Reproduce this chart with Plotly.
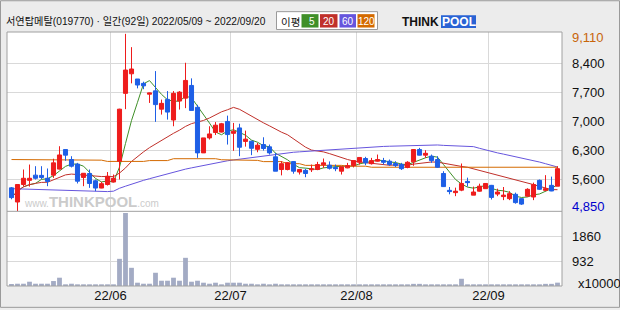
import pandas as pd
import plotly.graph_objects as go

# ---------------- data ----------------
holidays = ["2022-06-01", "2022-06-06", "2022-08-15", "2022-09-09", "2022-09-12"]
dates = [d for d in pd.bdate_range("2022-05-09", "2022-09-20")
         if d.strftime("%Y-%m-%d") not in holidays]

opens = [5410, 5070, 5490, 5590, 5715, 5710, 5640, 5715, 5860, 6330,
         6090, 5980, 5660, 5755, 5580, 5405, 5490, 5550, 6050, 7680,
         8150, 8025, 7920, 7660, 7740, 7300, 7535, 7040, 7495, 7565,
         7870, 7345, 6250, 6610, 6740, 6750, 7005, 6720, 6850, 6525,
         6530, 6335, 6450, 6395, 6155, 5850, 5850, 6040, 5790, 5830,
         5845, 5850, 5965, 5955, 5900, 5810, 5890, 5945, 6025, 6115,
         5990, 6050, 6065, 6050, 5995, 5970, 5900, 6035, 6330, 6195,
         6170, 6090, 5755, 5350, 5295, 5355, 5565, 5235, 5330, 5390,
         5470, 5260, 5200, 5150, 5255, 5150, 5210, 5190, 5590, 5350,
         5470, 5450]
highs = [5430, 5490, 5850, 5970, 5930, 5930, 5875, 6110, 6410, 6330,
         6170, 6010, 5765, 5850, 5610, 5555, 5790, 5730, 7310, 9110,
         8790, 8025, 7960, 7695, 8215, 7530, 7735, 7735, 7735, 8415,
         8040, 7405, 6610, 6890, 6990, 6970, 7145, 6970, 6950, 6785,
         6540, 6490, 6625, 6450, 6250, 6050, 6030, 6050, 5860, 5870,
         5970, 6035, 6115, 6045, 5970, 5920, 6010, 6070, 6140, 6155,
         6130, 6210, 6130, 6090, 6050, 6010, 6050, 6340, 6370, 6315,
         6210, 6170, 5810, 5430, 5415, 5995, 5655, 5440, 5510, 5520,
         5480, 5390, 5430, 5330, 5295, 5160, 5400, 5535, 5610, 5715,
         5680, 5930]
lows = [5135, 4850, 5450, 5440, 5610, 5620, 5450, 5650, 5850, 6060,
        5900, 5515, 5450, 5410, 5330, 5400, 5465, 5540, 5610, 7300,
        7920, 7800, 7780, 7450, 6995, 7170, 7050, 6890, 7290, 7325,
        7270, 6130, 6250, 6570, 6680, 6740, 6450, 6300, 6170, 6400,
        6195, 6265, 6305, 6210, 5810, 5710, 5830, 5750, 5730, 5665,
        5790, 5835, 5890, 5850, 5810, 5730, 5880, 5900, 5970, 5955,
        5970, 6040, 5970, 5940, 5910, 5840, 5880, 5940, 6190, 6130,
        6010, 5890, 5430, 5255, 5210, 5330, 5440, 5235, 5320, 5385,
        5130, 5210, 5115, 5115, 5030, 5000, 5200, 5115, 5360, 5330,
        5330, 5450]
closes = [5175, 5490, 5640, 5640, 5640, 5660, 5565, 6010, 6200, 6195,
          5930, 5570, 5760, 5515, 5405, 5510, 5690, 5640, 7300, 8240,
          8265, 7880, 7860, 7690, 7410, 7440, 7230, 7680, 7710, 7990,
          7270, 6250, 6610, 6705, 6915, 6950, 6690, 6770, 6385, 6580,
          6360, 6435, 6355, 6250, 5810, 5990, 6015, 5810, 5850, 5755,
          5865, 5970, 6010, 5880, 5870, 5915, 5945, 6065, 6140, 6010,
          6065, 6090, 6025, 5970, 5945, 5870, 6025, 6330, 6195, 6240,
          6065, 5905, 5440, 5320, 5330, 5515, 5535, 5310, 5450, 5515,
          5180, 5310, 5235, 5270, 5055, 5020, 5375, 5490, 5375, 5390,
          5335, 5870]
# volume, x10000 shares
volumes = [75, 85, 85, 160, 85, 85, 85, 185, 310, 50,
           85, 50, 45, 45, 45, 45, 45, 40, 1015, 2727,
           680, 123, 85, 85, 495, 197, 197, 310, 197, 1053,
           160, 197, 123, 85, 123, 50, 123, 123, 123, 85,
           85, 50, 85, 50, 85, 40, 40, 40, 40, 40,
           40, 40, 40, 40, 40, 40, 40, 40, 40, 40,
           40, 40, 40, 40, 40, 40, 40, 80, 80, 40,
           40, 40, 40, 40, 40, 270, 40, 40, 40, 40,
           40, 40, 40, 40, 40, 40, 40, 40, 40, 80,
           80, 125]
# 60- and 120-day averages (need data before the window)
ma60 = [5390, 5385, 5380, 5375, 5370, 5365, 5360, 5355, 5350, 5345,
        5340, 5335, 5330, 5325, 5320, 5320, 5320, 5330, 5400, 5450,
        5500, 5550, 5590, 5630, 5670, 5710, 5750, 5790, 5830, 5860,
        5890, 5920, 5950, 5980, 6010, 6040, 6060, 6080, 6100, 6120,
        6140, 6160, 6180, 6200, 6220, 6235, 6250, 6265, 6275, 6285,
        6295, 6305, 6315, 6325, 6330, 6345, 6360, 6370, 6380, 6390,
        6395, 6400, 6405, 6410, 6415, 6420, 6425, 6425, 6430, 6435,
        6445, 6440, 6430, 6425, 6420, 6420, 6415, 6400, 6360, 6320,
        6280, 6250, 6220, 6190, 6160, 6130, 6100, 6070, 6030, 5990,
        5950, 5910]
ma120 = [6090, 6090, 6090, 6090, 6090, 6090, 6090, 6090, 6085, 6085,
         6085, 6085, 6085, 6075, 6075, 6075, 6045, 6045, 6045, 6045,
         6045, 6045, 6045, 6065, 6065, 6065, 6065, 6110, 6110, 6110,
         6110, 6110, 6110, 6110, 6110, 6085, 6085, 6085, 6085, 6070,
         6070, 6070, 6040, 6040, 6040, 6040, 5990, 5990, 5990, 5950,
         5950, 5950, 5950, 5950, 5950, 5950, 5930, 5930, 5930, 5930,
         5905, 5905, 5905, 5905, 5905, 5905, 5905, 5905, 5905, 5905,
         5905, 5905, 5895, 5895, 5895, 5895, 5895, 5895, 5895, 5905,
         5905, 5905, 5905, 5905, 5905, 5905, 5905, 5905, 5905, 5905,
         5905, 5905]

price_ticks = [5600, 6300, 7000, 7700, 8400]
vol_ticks = [932, 1860]
title_text = "서연탑메탈(019770) · 일간(92일) 2022/05/09 ~ 2022/09/20"
ma_labels = ["5", "20", "60", "120"]

# ---------------- derived ----------------
n = len(dates)
idx = list(range(n))
cl = pd.Series(closes)
ma5 = cl.rolling(5, min_periods=1).mean().tolist()
ma20 = cl.rolling(20, min_periods=1).mean().tolist()
month_starts = [i for i in range(1, n) if dates[i].month != dates[i - 1].month]
x_tickvals = [i - 0.5 for i in month_starts]
x_ticktext = [dates[i].strftime("%y/%m") for i in month_starts]

# ---------------- style ----------------
RED = "#ee1c1c"
BLUE = "#1e5fe6"
C_MA = ["#3f8f28", "#c0302a", "#6655dd", "#d46a00"]
VOLC = "#a3abc4"
GRID = "#d9d9d9"
FRAME = "#a0a0a0"
BG = "#ececec"
W, H = 620, 310
ML, MR, MT, MB = 7, 58, 32, 22
PW, PH = W - ML - MR, H - MT - MB
VOL_DOM = 0.294


def px(x):
    return (x - ML) / PW


def py(y):
    return (H - MB - y) / PH


fig = go.Figure()
for ma, c in zip([ma5, ma20, ma60, ma120], C_MA):
    fig.add_trace(go.Scatter(x=idx, y=ma, mode="lines", line=dict(color=c, width=1),
                             xaxis="x", yaxis="y", hoverinfo="skip"))
fig.add_trace(go.Candlestick(
    x=idx, open=opens, high=highs, low=lows, close=closes,
    increasing=dict(line=dict(color=RED, width=1), fillcolor=RED),
    decreasing=dict(line=dict(color=BLUE, width=1), fillcolor=BLUE),
    whiskerwidth=0, xaxis="x", yaxis="y3"))
fig.add_trace(go.Bar(x=idx, y=volumes, marker=dict(color=VOLC, line=dict(width=0)),
                     width=0.8, xaxis="x", yaxis="y2"))

prange = [4846, 9154]
fig.update_layout(
    width=W, height=H, margin=dict(l=ML, r=MR, t=MT, b=MB),
    paper_bgcolor=BG, plot_bgcolor="white", showlegend=False,
    boxgap=0.32, boxgroupgap=0,
    xaxis=dict(range=[-0.75, n - 0.25], tickvals=x_tickvals, ticktext=x_ticktext,
               showgrid=True, gridcolor=GRID, gridwidth=1, zeroline=False,
               ticks="", anchor="y2", rangeslider=dict(visible=False),
               tickfont=dict(family="Liberation Sans", size=13, color="#111")),
    yaxis=dict(domain=[VOL_DOM, 1], range=prange, tickvals=price_ticks,
               showticklabels=False, showgrid=True, gridcolor=GRID, zeroline=False),
    yaxis3=dict(overlaying="y", range=prange, visible=False),
    yaxis2=dict(domain=[0, VOL_DOM], range=[0, 2790], tickvals=vol_ticks,
                showticklabels=False, showgrid=True, gridcolor=GRID, zeroline=False),
)

shapes = [
    dict(type="rect", xref="paper", yref="paper", x0=0, x1=1, y0=0, y1=1,
         line=dict(color=FRAME, width=1), layer="above"),
    dict(type="line", xref="paper", yref="paper", x0=0, x1=1, y0=VOL_DOM, y1=VOL_DOM,
         line=dict(color=FRAME, width=1), layer="above"),
    dict(type="rect", xref="paper", yref="paper", x0=px(0.5), x1=px(619.5),
         y0=py(309.5), y1=py(0.5), line=dict(color="#9a9a9a", width=1)),
    # MA legend box
    dict(type="rect", xref="paper", yref="paper", x0=px(276.5), x1=px(377.5),
         y0=py(29.5), y1=py(11.5), fillcolor="white", line=dict(color="#9a9a9a", width=1)),
]
box_x = [(301.5, 318.5), (320, 337.5), (339.5, 356), (357.5, 374.5)]
annotations = []
for k, ((a, b), c, lab) in enumerate(zip(box_x, C_MA, ma_labels)):
    shapes.append(dict(type="rect", xref="paper", yref="paper", x0=px(a), x1=px(b),
                       y0=py(27.5), y1=py(14), fillcolor=c, line=dict(width=0)))
    if k == 0:
        ax, anc = px(b - 1.5), "right"
    else:
        ax, anc = px((a + b) / 2), "center"
    annotations.append(dict(xref="paper", yref="paper", x=ax, y=py(21),
                            text=lab, showarrow=False, xanchor=anc, yanchor="middle",
                            font=dict(family="Liberation Sans", size=10, color="white")))
annotations.append(dict(xref="paper", yref="paper", x=px(290), y=py(21), text="이평",
                        showarrow=False, xanchor="center", yanchor="middle",
                        font=dict(family="Noto Sans CJK KR", size=10.5, color="#111")))
# title
annotations.append(dict(xref="paper", yref="paper", x=px(4), y=py(21), text=title_text,
                        showarrow=False, xanchor="left", yanchor="middle",
                        font=dict(family="Liberation Sans, Noto Sans CJK KR", size=10.2,
                                  color="#111")))
# logo
shapes.append(dict(type="rect", xref="paper", yref="paper", x0=px(441), x1=px(476),
                   y0=py(28), y1=py(15), fillcolor="#2a63d4", line=dict(width=0)))
annotations.append(dict(xref="paper", yref="paper", x=px(441), y=py(21.5), text="<b>THINK</b>",
                        showarrow=False, xanchor="right", yanchor="middle",
                        font=dict(family="Liberation Sans", size=12, color="#111")))
annotations.append(dict(xref="paper", yref="paper", x=px(458.5), y=py(21.5), text="<b>POOL</b>",
                        showarrow=False, xanchor="center", yanchor="middle",
                        font=dict(family="Liberation Sans", size=12, color="white")))
# watermark
annotations.append(dict(xref="paper", yref="paper", x=px(22), y=py(203),
                        text="<span style='font-size:10px'>www.</span><b>THINKPOOL</b>"
                             "<span style='font-size:10px'>.com</span>",
                        showarrow=False, xanchor="left", yanchor="middle",
                        font=dict(family="Liberation Sans", size=15, color="#cbcbcb")))
# right price labels
for v in price_ticks:
    annotations.append(dict(xref="paper", yref="y", x=1, xshift=8, y=v,
                            text=f"{v:,}", showarrow=False, xanchor="left", yanchor="middle",
                            font=dict(family="Liberation Sans", size=13, color="#111")))
annotations.append(dict(xref="paper", yref="y", x=1, xshift=8, y=max(highs), yshift=-4,
                        text=f"{max(highs):,}", showarrow=False, xanchor="left",
                        yanchor="middle",
                        font=dict(family="Liberation Sans", size=13, color="#c8650a")))
annotations.append(dict(xref="paper", yref="y", x=1, xshift=8, y=min(lows), yshift=5,
                        text=f"{min(lows):,}", showarrow=False, xanchor="left",
                        yanchor="middle",
                        font=dict(family="Liberation Sans", size=13, color="#0000cc")))
for v in vol_ticks:
    annotations.append(dict(xref="paper", yref="y2", x=1, xshift=8, y=v,
                            text=str(v), showarrow=False, xanchor="left", yanchor="middle",
                            font=dict(family="Liberation Sans", size=13, color="#111")))
annotations.append(dict(xref="paper", yref="paper", x=px(576), y=py(285.5), text="x10000",
                        showarrow=False, xanchor="left", yanchor="middle",
                        font=dict(family="Liberation Sans", size=13, color="#111")))

fig.update_layout(shapes=shapes, annotations=annotations)
fig.write_html("out.html")
